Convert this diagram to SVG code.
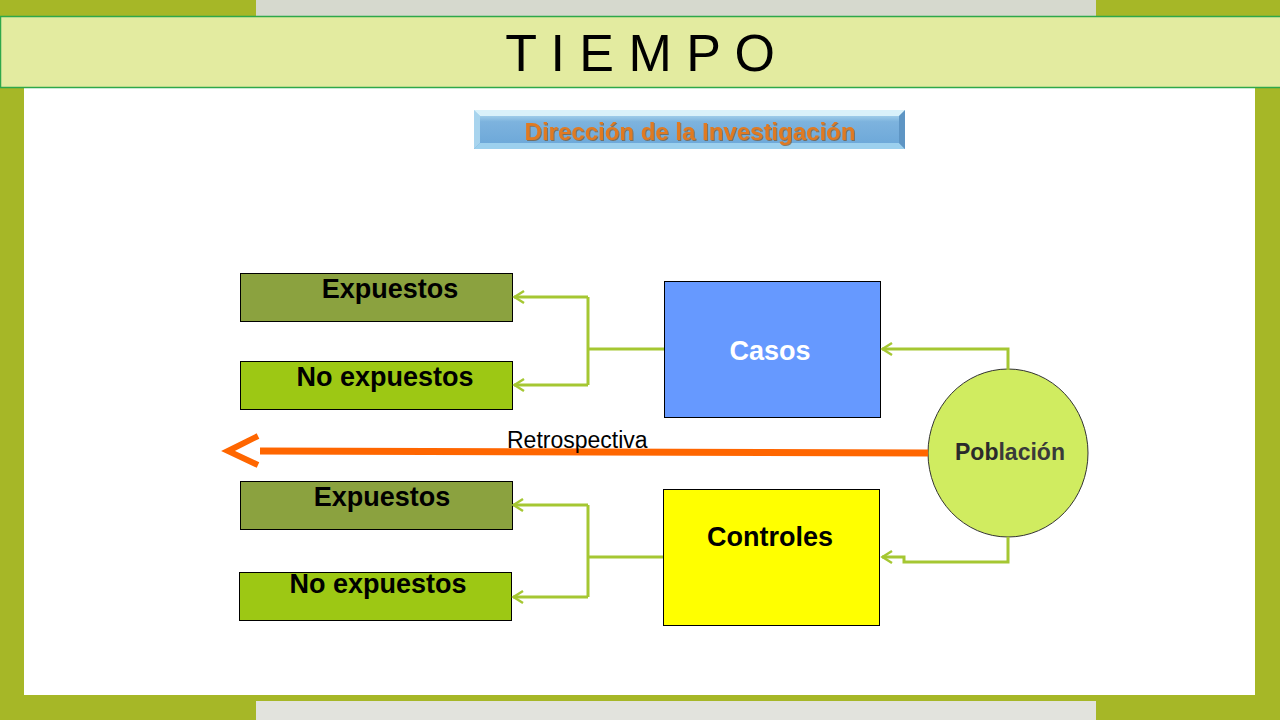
<svg xmlns="http://www.w3.org/2000/svg" width="1280" height="720" viewBox="0 0 1280 720">
<style>
.box{stroke:#000;stroke-width:1}
.lbl{font-family:"Liberation Sans",Arial,sans-serif;font-weight:bold;font-size:27px;text-anchor:middle}
.con{fill:none;stroke:#A5C732;stroke-width:3}
</style>
<defs>
<marker id="ah" viewBox="0 0 14 14" refX="11.5" refY="7" markerWidth="14" markerHeight="14" markerUnits="userSpaceOnUse" orient="auto">
<path d="M1.5,1 L11,7 L1.5,13" fill="none" stroke="#A5C732" stroke-width="2.4"/>
</marker>
<linearGradient id="bn" x1="0" y1="0" x2="0" y2="1">
<stop offset="0" stop-color="#BFE6F5"/>
<stop offset="0.3" stop-color="#7DB3DE"/>
<stop offset="1" stop-color="#6AA6D8"/>
</linearGradient>
<filter id="sh" x="-5%" y="-20%" width="110%" height="140%">
<feDropShadow dx="1" dy="1" stdDeviation="0.6" flood-color="#7a4a10" flood-opacity="0.6"/>
</filter>
</defs>
<rect x="0" y="0" width="1280" height="720" fill="#A6B727"/>
<rect x="256" y="0" width="840" height="16" fill="#D6D9CE"/>
<rect x="256" y="701" width="840" height="19" fill="#E2E3DD"/>
<rect x="24" y="88" width="1231" height="607" fill="#FFFFFF"/>
<g id="title">
<rect x="0.5" y="16.5" width="1290" height="71" fill="#E3EBA0" stroke="#2EA84A" stroke-width="1.5"/>
<text x="640" y="71" font-family="Liberation Sans,Arial,sans-serif" font-size="52" text-anchor="middle" fill="#000">T I E M P O</text>
</g>
<g id="banner">
<rect x="474" y="110" width="431" height="39" fill="url(#bn)"/>
<polygon points="474,110 905,110 899,116 480,116" fill="#D9F1FA"/>
<polygon points="474,149 905,149 899,143 480,143" fill="#9CD0EE"/>
<polygon points="905,110 905,149 899,143 899,116" fill="#5E95C4"/>
<polygon points="474,110 474,149 480,143 480,116" fill="#A8D4EE"/>
<text x="690" y="140" font-family="Liberation Sans,Arial,sans-serif" font-weight="bold" font-size="24" text-anchor="middle" fill="#E07A22" filter="url(#sh)">Dirección de la Investigación</text>
</g>
<g id="expuestos1">
<rect class="box" x="240.5" y="273.5" width="272" height="48" fill="#8BA23F"/>
<text class="lbl" x="390" y="298">Expuestos</text>
</g>
<g id="noexpuestos1">
<rect class="box" x="240.5" y="361.5" width="272" height="48" fill="#9DC814"/>
<text class="lbl" x="385" y="386">No expuestos</text>
</g>
<g id="expuestos2">
<rect class="box" x="240.5" y="481.5" width="272" height="48" fill="#8BA23F"/>
<text class="lbl" x="382" y="506">Expuestos</text>
</g>
<g id="noexpuestos2">
<rect class="box" x="239.5" y="572.5" width="272" height="48" fill="#9DC814"/>
<text class="lbl" x="378" y="593">No expuestos</text>
</g>
<g id="casos">
<rect class="box" x="664.5" y="281.5" width="216" height="136" fill="#6699FF"/>
<text class="lbl" x="770" y="360" fill="#FFFFFF">Casos</text>
</g>
<g id="controles">
<rect class="box" x="663.5" y="489.5" width="216" height="136" fill="#FFFF00"/>
<text class="lbl" x="770" y="546">Controles</text>
</g>
<g id="poblacion">
<ellipse cx="1008" cy="453" rx="80" ry="84" fill="#D0EC60" stroke="#333" stroke-width="1"/>
<text x="1010" y="460" font-family="Liberation Sans,Arial,sans-serif" font-weight="bold" font-size="23" text-anchor="middle" fill="#3A3A3A"><tspan fill="#2A2A2A">Pob</tspan>lación</text>
</g>
<g id="connectors">
<path class="con" d="M664,349 H588"/>
<path class="con" d="M588,297 V385"/>
<path class="con" d="M588,297 H514" marker-end="url(#ah)"/>
<path class="con" d="M588,385 H514" marker-end="url(#ah)"/>
<path class="con" d="M663,557 H588"/>
<path class="con" d="M588,505 V597"/>
<path class="con" d="M588,505 H513" marker-end="url(#ah)"/>
<path class="con" d="M588,597 H513" marker-end="url(#ah)"/>
<path class="con" d="M1008,370 V349 H882" marker-end="url(#ah)"/>
<path class="con" d="M1008,537 V562 H904 V557 H882" marker-end="url(#ah)"/>
<path d="M928,453 L260,451" fill="none" stroke="#FF6600" stroke-width="7"/>
<path d="M258,436 L228,451 L258,465" fill="none" stroke="#FF6600" stroke-width="6"/>
<text x="507" y="448" font-family="Liberation Sans,Arial,sans-serif" font-size="23" fill="#000">Retrospectiva</text>
</g>
</svg>
